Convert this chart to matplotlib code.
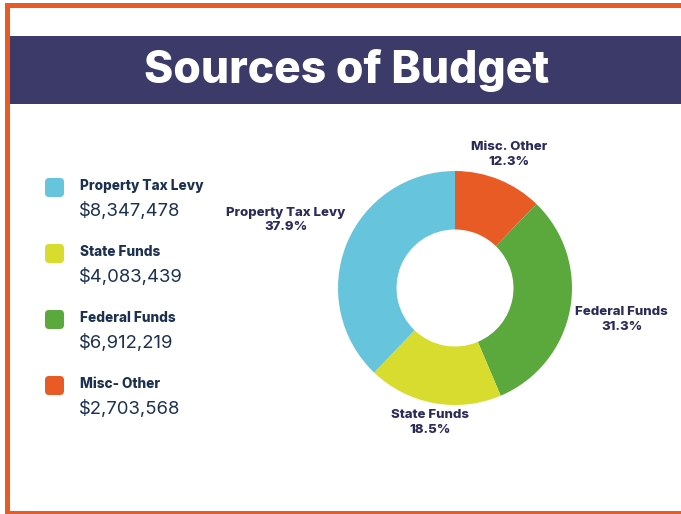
import matplotlib
matplotlib.use("Agg")
import matplotlib.pyplot as plt
from matplotlib.patches import Rectangle, FancyBboxPatch
import numpy as np

# data (legend order)
sources = ["Property Tax Levy", "State Funds", "Federal Funds", "Misc- Other"]
amounts = [8347478, 4083439, 6912219, 2703568]
colors = ["#66c4dc", "#d8dc2e", "#5ba83c", "#e85b24"]

# donut order (clockwise from top) and its labels
pie_order = [3, 2, 1, 0]
pie_names = ["Misc. Other", "Federal Funds", "State Funds", "Property Tax Levy"]
pie_pcts = ["12.3%", "31.3%", "18.5%", "37.9%"]
label_dist = [1.23, 1.45, 1.17, 1.56]

W, H = 681, 514
navy = "#3c3a69"
orange = "#e85b24"
txt = "#2b2b5a"
legend_txt = "#1c3150"
font = "Inter"

fig = plt.figure(figsize=(W / 100, H / 100), dpi=100)
ax = fig.add_axes([0, 0, 1, 1])


def py(y):
    # pixel y from top -> data y
    return H - y


# border and title band
ax.add_patch(Rectangle((5, py(8)), W, 5, color=orange, lw=0))
ax.add_patch(Rectangle((5, 0), 5, H - 3, color=orange, lw=0))
ax.add_patch(Rectangle((5, 0), W, 3, color=orange, lw=0))
ax.add_patch(Rectangle((10, py(104)), W, 68, color=navy, lw=0))
ax.text(347, py(71), "Sources of Budget", color="white", fontsize=32,
        fontweight="heavy", family=font, ha="center", va="center")

# donut
cx, cy, R = 455, py(288), 117
wedges, _ = ax.pie([amounts[i] for i in pie_order],
                   colors=[colors[i] for i in pie_order],
                   startangle=90, counterclock=False, radius=R, center=(cx, cy),
                   wedgeprops=dict(width=R * 0.5, linewidth=0))
for w, name, pct, d in zip(wedges, pie_names, pie_pcts, label_dist):
    ang = np.deg2rad((w.theta1 + w.theta2) / 2)
    x = cx + d * R * np.cos(ang)
    y = cy + d * R * np.sin(ang)
    ax.text(x, y, f"{name}\n{pct}", ha="center", va="center", color=txt,
            fontsize=9.5, fontweight="heavy", family=font, linespacing=1.3)

# legend
for k, (name, amt, col) in enumerate(zip(sources, amounts, colors)):
    top = 178 + k * 66
    ax.add_patch(FancyBboxPatch((47, py(top + 17)), 15, 15,
                                boxstyle="round,pad=2,rounding_size=4",
                                color=col, lw=0))
    ax.text(80, py(top + 8), name, color=legend_txt, fontsize=9.8,
            fontweight="heavy", family=font, va="center")
    ax.text(79, py(top + 33), f"${amt:,}", color=legend_txt, fontsize=13.3,
            family=font, va="center")

ax.set_xlim(0, W)
ax.set_ylim(0, H)
ax.set_aspect("auto")
ax.axis("off")
fig.savefig("out.png", dpi=100)
